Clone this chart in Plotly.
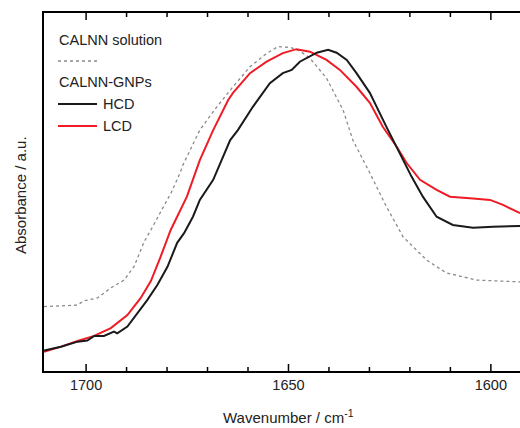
import plotly.graph_objects as go

# CALNN solution (dotted grey)
sol_wn = [1710.4, 1702.2, 1700.5, 1697.2, 1693.9, 1690.6, 1688.1, 1685.7, 1684.0, 1680.1, 1678.9,
          1676.8, 1676.1, 1671.9, 1667.7, 1663.7, 1659.5, 1655.4, 1652.6, 1649.6, 1647.2, 1644.7,
          1640.6, 1636.5, 1634.1, 1629.9, 1625.8, 1621.7, 1615.9, 1611.0, 1603.5, 1592.8]
sol_abs = [0.180, 0.184, 0.196, 0.204, 0.232, 0.254, 0.293, 0.360, 0.394, 0.478, 0.500,
           0.553, 0.575, 0.673, 0.738, 0.794, 0.850, 0.887, 0.906, 0.904, 0.894, 0.874,
           0.818, 0.729, 0.645, 0.553, 0.459, 0.375, 0.310, 0.274, 0.254, 0.249]

# CALNN-GNPs LCD (red)
lcd_wn = [1710.4, 1706.2, 1702.1, 1698.0, 1693.9, 1689.8, 1686.5, 1684.0, 1681.6, 1679.1, 1675.1,
          1671.9, 1668.6, 1664.9, 1663.7, 1659.5, 1655.4, 1651.4, 1648.0, 1644.7, 1640.6, 1637.3,
          1633.2, 1629.9, 1626.7, 1623.3, 1620.8, 1617.5, 1613.4, 1610.1, 1604.4, 1600.2, 1597.0, 1592.8]
lcd_abs = [0.054, 0.068, 0.084, 0.098, 0.120, 0.156, 0.204, 0.251, 0.319, 0.394, 0.487,
           0.589, 0.673, 0.757, 0.777, 0.832, 0.864, 0.888, 0.899, 0.892, 0.869, 0.841,
           0.794, 0.749, 0.682, 0.627, 0.581, 0.534, 0.506, 0.487, 0.482, 0.478, 0.464, 0.441]

# CALNN-GNPs HCD (black)
hcd_wn = [1710.4, 1706.2, 1702.1, 1699.7, 1698.0, 1695.6, 1693.1, 1692.3, 1689.8, 1687.3, 1684.9,
          1682.4, 1679.9, 1677.5, 1675.8, 1673.6, 1671.9, 1668.6, 1666.9, 1664.4, 1662.5, 1658.8,
          1654.6, 1651.4, 1649.2, 1647.2, 1643.0, 1640.2, 1638.1, 1635.6, 1633.2, 1629.9, 1625.8,
          1622.5, 1619.6, 1616.8, 1613.4, 1609.4, 1604.4, 1599.5, 1592.8]
hcd_abs = [0.057, 0.068, 0.082, 0.085, 0.098, 0.098, 0.110, 0.105, 0.124, 0.162, 0.198,
           0.240, 0.291, 0.358, 0.385, 0.431, 0.478, 0.534, 0.581, 0.645, 0.673, 0.738,
           0.804, 0.832, 0.841, 0.864, 0.889, 0.897, 0.889, 0.869, 0.832, 0.777, 0.682,
           0.609, 0.543, 0.487, 0.431, 0.408, 0.400, 0.403, 0.405]

X_RANGE = [1710.4, 1592.8]
Y_RANGE = [0, 1]
MAJOR_TICKS = [1700, 1650, 1600]
MINOR_TICKS = [1690, 1680, 1670, 1660, 1640, 1630, 1620, 1610]

FONT = "Arial, Liberation Sans, sans-serif"
W, H = 520, 428
L, R, T, B = 44, 0, 13, 57
PLOT_H = H - T - B

fig = go.Figure()
fig.add_trace(go.Scatter(x=sol_wn, y=sol_abs, mode="lines",
                         line=dict(color="#8a8a8a", width=1.3, dash="dot"), name="CALNN solution"))
fig.add_trace(go.Scatter(x=lcd_wn, y=lcd_abs, mode="lines",
                         line=dict(color="#ee1c25", width=2), name="LCD"))
fig.add_trace(go.Scatter(x=hcd_wn, y=hcd_abs, mode="lines",
                         line=dict(color="#1a1a1a", width=2), name="HCD"))

# inward tick marks on bottom and top axes (length given in pixels)
def tick_segments(vals, length_px):
    d = length_px / PLOT_H * (Y_RANGE[1] - Y_RANGE[0])
    xs, ys = [], []
    for v in vals:
        xs += [v, v, None, v, v, None]
        ys += [Y_RANGE[0], Y_RANGE[0] + d, None, Y_RANGE[1], Y_RANGE[1] - d, None]
    return xs, ys

for vals, ln in ((MAJOR_TICKS, 7), (MINOR_TICKS, 4)):
    tx, ty = tick_segments(vals, ln)
    fig.add_trace(go.Scatter(x=tx, y=ty, mode="lines", line=dict(color="black", width=1.5),
                             hoverinfo="skip", showlegend=False))

def px(x):
    return (x - L) / (W - L - R)

def py(y):
    return 1 - (y - T) / PLOT_H

ann = [
    dict(text="CALNN solution", x=px(57), y=py(40), xanchor="left", yanchor="middle"),
    dict(text="CALNN-GNPs", x=px(57), y=py(82), xanchor="left", yanchor="middle"),
    dict(text="HCD", x=px(101), y=py(104), xanchor="left", yanchor="middle"),
    dict(text="LCD", x=px(101), y=py(126), xanchor="left", yanchor="middle"),
]
annotations = []
for a in ann:
    a.update(xref="paper", yref="paper", showarrow=False,
             font=dict(family=FONT, size=14.5, color="#222"))
    annotations.append(a)
annotations.append(dict(text="Wavenumber / cm<sup>-1</sup>", x=px(288), y=py(416),
                        xref="paper", yref="paper", showarrow=False, xanchor="center", yanchor="middle",
                        font=dict(family=FONT, size=15, color="#222")))
annotations.append(dict(text="Absorbance / a.u.", x=px(20), y=py(195), textangle=-90,
                        xref="paper", yref="paper", showarrow=False, xanchor="center", yanchor="middle",
                        font=dict(family=FONT, size=15, color="#222")))

shapes = [
    dict(type="line", xref="paper", yref="paper", x0=px(58), x1=px(98), y0=py(61), y1=py(61),
         line=dict(color="#8a8a8a", width=1.3, dash="dot")),
    dict(type="line", xref="paper", yref="paper", x0=px(58), x1=px(97), y0=py(104), y1=py(104),
         line=dict(color="#1a1a1a", width=2)),
    dict(type="line", xref="paper", yref="paper", x0=px(58), x1=px(97), y0=py(126), y1=py(126),
         line=dict(color="#ee1c25", width=2)),
]

fig.update_layout(
    width=W, height=H,
    margin=dict(l=L, r=R, t=T, b=B),
    plot_bgcolor="white",
    showlegend=False,
    annotations=annotations, shapes=shapes,
    xaxis=dict(range=X_RANGE, showline=True, linecolor="black", linewidth=1.5, mirror=True,
               gridcolor="white", zerolinecolor="white", ticks="",
               tickmode="array", tickvals=MAJOR_TICKS, ticktext=[str(v) for v in MAJOR_TICKS],
               tickfont=dict(family=FONT, size=14.5, color="#222")),
    yaxis=dict(range=Y_RANGE, showline=True, linecolor="black", linewidth=1.5,
               gridcolor="white", zerolinecolor="white", showticklabels=False, ticks=""),
)

fig.write_html("out.html", config={"displayModeBar": False},
               post_script="document.body.style.margin='0';document.body.style.padding='0';")
